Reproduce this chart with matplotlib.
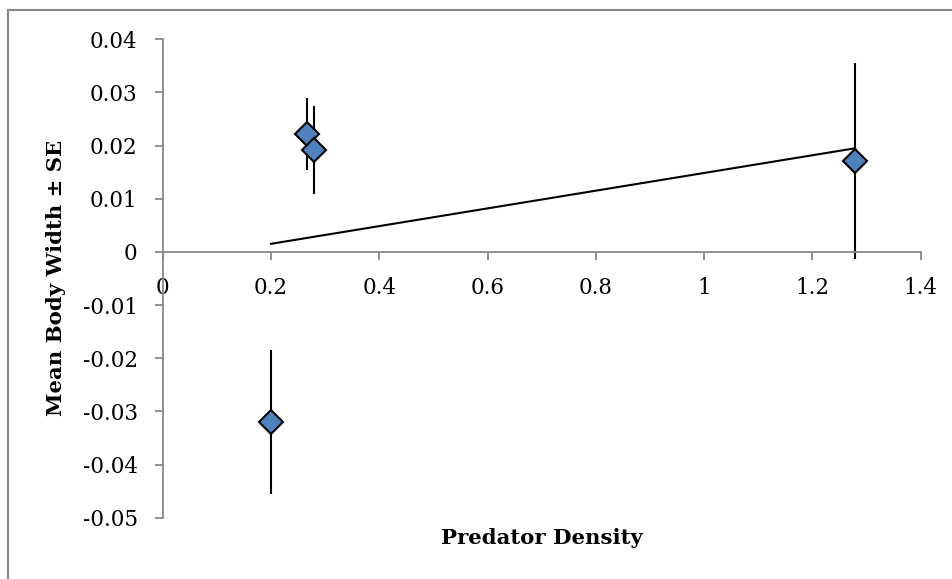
import matplotlib
matplotlib.use("Agg")
import matplotlib.pyplot as plt
import numpy as np
from matplotlib.lines import Line2D

# Data
predator_density = [0.266, 0.2795, 0.200, 1.279]
mean_body_width = [0.0222, 0.0192, -0.0320, 0.0171]
se = [0.0067, 0.0083, 0.0136, 0.0184]
x_ticks = [0, 0.2, 0.4, 0.6, 0.8, 1.0, 1.2, 1.4]
x_tick_labels = ["0", "0.2", "0.4", "0.6", "0.8", "1", "1.2", "1.4"]
y_ticks = [-0.05, -0.04, -0.03, -0.02, -0.01, 0, 0.01, 0.02, 0.03, 0.04]
y_tick_labels = ["-0.05", "-0.04", "-0.03", "-0.02", "-0.01", "0", "0.01", "0.02", "0.03", "0.04"]

plt.rcParams['font.family'] = ['DejaVu Serif']

fig = plt.figure(figsize=(9.53, 5.79), dpi=100)
ax = fig.add_axes([162.7/953, 1-517.7/579, (920.7-162.7)/953, (517.7-39.3)/579])

# error bars + markers
ax.errorbar(predator_density, mean_body_width, yerr=se, fmt='none', ecolor='black',
            elinewidth=1.5, capsize=0, zorder=2)
ax.plot(predator_density, mean_body_width, linestyle='none', marker='D', markersize=12,
        markerfacecolor='#4F81BD', markeredgecolor='black', markeredgewidth=1.5, zorder=4)

# linear trendline
coef = np.polyfit(predator_density, mean_body_width, 1)
xt = np.array([min(predator_density), max(predator_density)])
ax.plot(xt, np.polyval(coef, xt), color='black', linewidth=1.5, zorder=3)

ax.set_xlim(0, 1.4)
ax.set_ylim(-0.05, 0.04)
ax.set_xticks(x_ticks)
ax.set_xticklabels(x_tick_labels)
ax.set_yticks(y_ticks)
ax.set_yticklabels(y_tick_labels)

for s in ['top', 'right']:
    ax.spines[s].set_visible(False)
ax.spines['bottom'].set_position(('data', 0))
for s in ['left', 'bottom']:
    ax.spines[s].set_color('#888888')
    ax.spines[s].set_linewidth(1.3)
ax.tick_params(axis='both', colors='#888888', labelcolor='black', labelsize=15.5,
               length=6, width=1.3, direction='out')
ax.tick_params(axis='x', pad=12)
ax.tick_params(axis='y', pad=12)

fig.text(541.7/953, 1-538/579, "Predator Density", ha='center', va='center',
         fontsize=15.3, fontweight='bold')
fig.text(56/953, 1-278/579, "Mean Body Width ± SE", ha='center', va='center',
         rotation=90, fontsize=15.3, fontweight='bold')

# outer frame (left and top visible)
fig.add_artist(Line2D([8/953, 8/953], [0, 1-10/579], transform=fig.transFigure,
                      color='#888888', linewidth=1.5))
fig.add_artist(Line2D([8/953, 1], [1-10/579, 1-10/579], transform=fig.transFigure,
                      color='#888888', linewidth=1.5))

fig.savefig("out.png", dpi=100)
